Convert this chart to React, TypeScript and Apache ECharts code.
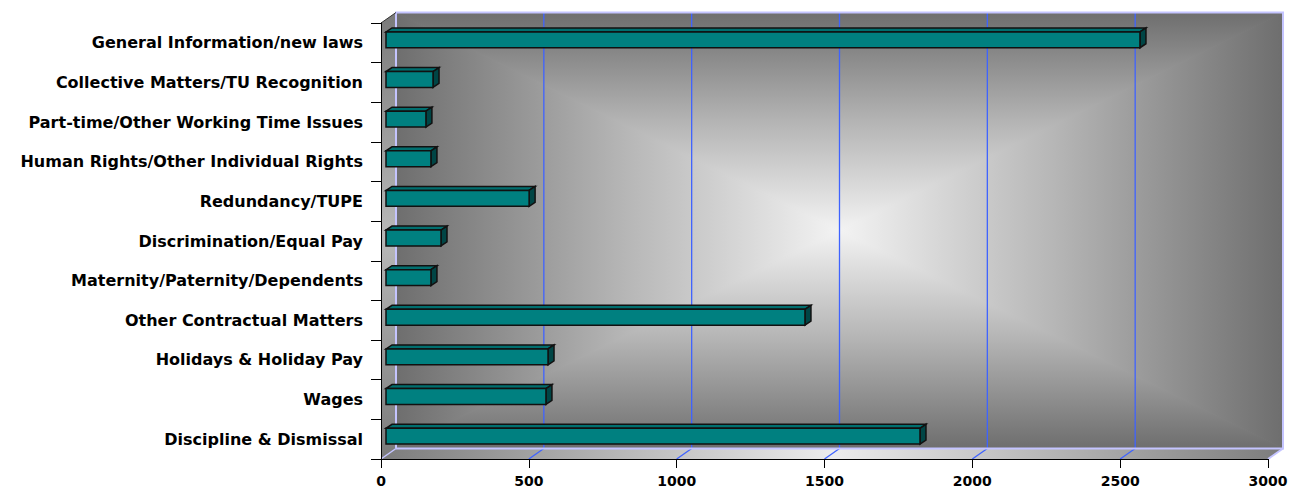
import React, { useEffect, useRef } from "react";
import * as echarts from "echarts";

const categories: string[] = [
  "Discipline & Dismissal",
  "Wages",
  "Holidays & Holiday Pay",
  "Other Contractual Matters",
  "Maternity/Paternity/Dependents",
  "Discrimination/Equal Pay",
  "Redundancy/TUPE",
  "Human Rights/Other Individual Rights",
  "Part-time/Other Working Time Issues",
  "Collective Matters/TU Recognition",
  "General Information/new laws",
];

const counts: number[] = [1806, 541, 548, 1417, 152, 186, 484, 152, 135, 159, 2550];

const xMin = 0;
const xMax = 3000;
const xStep = 500;

const WALL_DX = 15;
const WALL_DY = -10.5;

export default function App() {
  const ref = useRef<HTMLDivElement>(null);

  useEffect(() => {
    if (!ref.current) return;
    const chart = echarts.init(ref.current, undefined, { renderer: "svg" });

    const renderFrame = (params: any, api: any) => {
      const cs = params.coordSys;
      const L = cs.x;
      const T = cs.y;
      const R = cs.x + cs.width;
      const B = cs.y + cs.height;
      const bl = L + WALL_DX;
      const bt = T + WALL_DY;
      const br = R + WALL_DX;
      const bb = B + WALL_DY;
      const cx = (bl + br) / 2;
      const cy = (bt + bb) / 2;
      const grad = (x: number, y: number, x2: number, y2: number) => ({
        type: "linear",
        x,
        y,
        x2,
        y2,
        colorStops: [
          { offset: 0, color: "#6e6e6e" },
          { offset: 0.5, color: "#b4b4b4" },
          { offset: 1, color: "#f3f3f3" },
        ],
      });
      const tri = (pts: number[][], g: any) => ({
        type: "polygon",
        shape: { points: pts },
        style: { fill: g, stroke: g, lineWidth: 1 },
      });
      const children: any[] = [];
      children.push({
        type: "rect",
        shape: { x: bl, y: bt, width: br - bl, height: bb - bt },
        style: { fill: "#b0b0b0" },
      });
      children.push(tri([[bl, bt], [br, bt], [cx, cy]], grad(0, 0, 0, 1)));
      children.push(tri([[bl, bb], [br, bb], [cx, cy]], grad(0, 1, 0, 0)));
      children.push(tri([[bl, bt], [bl, bb], [cx, cy]], grad(0, 0, 1, 0)));
      children.push(tri([[br, bt], [br, bb], [cx, cy]], grad(1, 0, 0, 0)));
      // left wall
      children.push({
        type: "polygon",
        shape: { points: [[L, T], [bl, bt], [bl, bb], [L, B]] },
        style: {
          fill: {
            type: "linear",
            x: 0,
            y: 0,
            x2: 0,
            y2: 1,
            colorStops: [
              { offset: 0, color: "#7a7a7a" },
              { offset: 0.5, color: "#b8b8b8" },
              { offset: 1, color: "#7a7a7a" },
            ],
          },
        },
      });
      // floor
      children.push({
        type: "polygon",
        shape: { points: [[bl, bb], [br, bb], [R, B], [L, B]] },
        style: {
          fill: {
            type: "linear",
            x: 0,
            y: 0,
            x2: 1,
            y2: 0,
            colorStops: [
              { offset: 0, color: "#7c7c7c" },
              { offset: 0.5, color: "#ececec" },
              { offset: 1, color: "#7c7c7c" },
            ],
          },
        },
      });
      // gridlines
      const gridColor = "#3f63ff";
      for (let v = xMin + xStep; v < xMax; v += xStep) {
        const x = api.coord([v, 0])[0];
        children.push({
          type: "line",
          shape: { x1: x + WALL_DX, y1: bt, x2: x + WALL_DX, y2: bb },
          style: { stroke: gridColor, lineWidth: 1.3 },
        });
        children.push({
          type: "line",
          shape: { x1: x + WALL_DX, y1: bb, x2: x, y2: B },
          style: { stroke: gridColor, lineWidth: 1.3 },
        });
      }
      // lavender borders
      const lav = "#c4c4ff";
      children.push({
        type: "polyline",
        shape: { points: [[bl, bb], [bl, bt], [br, bt], [br, bb], [bl, bb]] },
        style: { stroke: lav, lineWidth: 2, fill: "none" },
      });
      children.push({
        type: "line",
        shape: { x1: bl, y1: bb, x2: L, y2: B },
        style: { stroke: lav, lineWidth: 1.5 },
      });
      children.push({
        type: "line",
        shape: { x1: br, y1: bb, x2: R, y2: B },
        style: { stroke: lav, lineWidth: 2 },
      });
      // left wall top edge
      children.push({
        type: "line",
        shape: { x1: L, y1: T, x2: bl, y2: bt },
        style: { stroke: "#333333", lineWidth: 1 },
      });
      return { type: "group", children };
    };

    const renderBar = (params: any, api: any) => {
      const v = api.value(0);
      const i = api.value(1);
      const p0 = api.coord([0, i]);
      const p1 = api.coord([v, i]);
      const band = api.size([0, 1])[1];
      const h = band * 0.4;
      const fx = 5;
      const fy = -3;
      const ddx = 6;
      const ddy = -4;
      const xl = p0[0] + fx;
      const xr = p1[0] + fx;
      const yt = p0[1] + fy - h / 2;
      const yb = yt + h;
      const stroke = "#111111";
      return {
        type: "group",
        children: [
          {
            type: "polygon",
            shape: { points: [[xl, yt], [xr, yt], [xr + ddx, yt + ddy], [xl + ddx, yt + ddy]] },
            style: { fill: "#006f6f", stroke, lineWidth: 1.5 },
          },
          {
            type: "polygon",
            shape: { points: [[xr, yt], [xr + ddx, yt + ddy], [xr + ddx, yb + ddy], [xr, yb]] },
            style: { fill: "#004545", stroke, lineWidth: 1.5 },
          },
          {
            type: "rect",
            shape: { x: xl, y: yt, width: xr - xl, height: h },
            style: { fill: "#008080", stroke, lineWidth: 1.5 },
          },
        ],
      };
    };

    chart.setOption({
      animation: false,
      backgroundColor: "#ffffff",
      grid: { left: 381, right: 36, top: 23, bottom: 29, containLabel: false },
      xAxis: {
        type: "value",
        min: xMin,
        max: xMax,
        interval: xStep,
        z: 10,
        axisLine: { show: true, lineStyle: { color: "#000000", width: 1 } },
        axisTick: { show: true, length: 9, lineStyle: { color: "#000000" } },
        splitLine: { show: false },
        axisLabel: {
          color: "#000000",
          fontFamily: "DejaVu Sans",
          fontWeight: "bold",
          fontSize: 14,
          margin: 15,
          formatter: (v: number) => String(v),
        },
      },
      yAxis: {
        type: "category",
        data: categories,
        z: 10,
        axisLine: { show: true, lineStyle: { color: "#000000", width: 1 } },
        axisTick: { show: true, length: 10, alignWithLabel: false, lineStyle: { color: "#000000" } },
        splitLine: { show: false },
        axisLabel: {
          color: "#000000",
          fontFamily: "DejaVu Sans",
          fontWeight: "bold",
          fontSize: 16,
          margin: 18,
        },
      },
      series: [
        {
          type: "custom",
          z: 1,
          clip: false,
          silent: true,
          renderItem: renderFrame,
          data: [[0, 0]],
        },
        {
          type: "custom",
          z: 2,
          clip: false,
          renderItem: renderBar,
          encode: { x: 0, y: 1 },
          data: counts.map((v, i) => [v, i]),
        },
      ],
    });

    return () => {
      chart.dispose();
    };
  }, []);

  return (
    <div
      ref={ref}
      style={{ position: "absolute", left: 0, top: 0, width: 1304, height: 488 }}
    />
  );
}
